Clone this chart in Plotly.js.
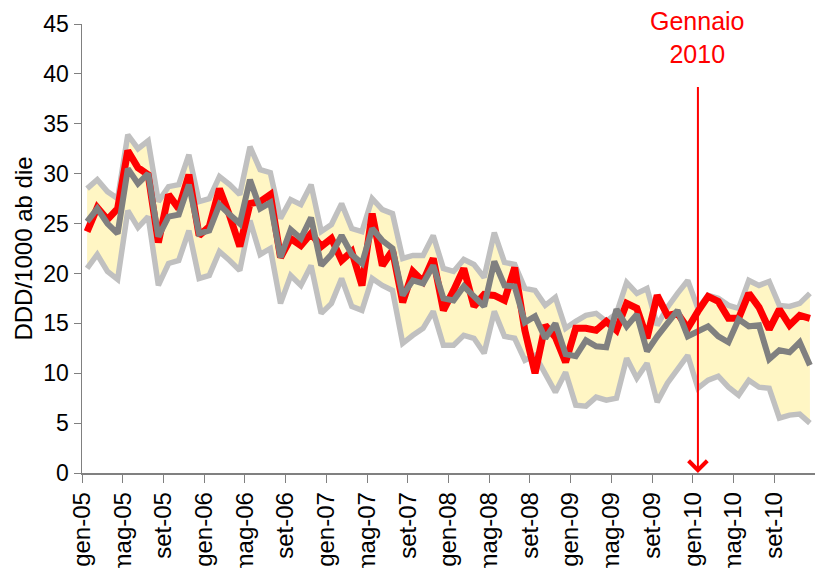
<!DOCTYPE html>
<html>
<head>
<meta charset="utf-8">
<script src="https://cdn.plot.ly/plotly-3.0.1.min.js"></script>
<style>
html, body { margin: 0; padding: 0; background: #fff; }
#chart { width: 815px; height: 568px; }
</style>
</head>
<body>
<div id="chart"></div>
<script>
// mesi gen-05 ... dic-10
var monthNames = ['gen', 'feb', 'mar', 'apr', 'mag', 'giu', 'lug', 'ago', 'set', 'ott', 'nov', 'dic'];
var years = ['05', '06', '07', '08', '09', '10'];
var months = [];
years.forEach(function (y) {
  monthNames.forEach(function (m) { months.push(m + '-' + y); });
});

// DDD/1000 ab die osservati (rosso)
var observed = [
  24.2, 26.6, 25.4, 26.5, 32.3, 30.6, 29.9, 23.1, 27.9, 26.5, 29.9, 23.8,
  24.7, 28.5, 25.8, 22.7, 27.0, 27.2, 27.9, 21.6, 23.5, 22.8, 24.0, 22.7,
  23.5, 21.3, 22.2, 18.8, 26.0, 20.8, 22.3, 17.1, 20.2, 19.2, 21.5, 16.3,
  18.3, 20.5, 16.7, 17.9, 17.8, 17.3, 20.6, 14.3, 10.0, 14.8, 13.6, 11.1,
  14.5, 14.5, 14.3, 15.2, 14.3, 17.0, 16.5, 13.5, 17.8, 15.8, 16.0, 14.5,
  16.2, 17.7, 17.2, 15.5, 15.5, 18.0, 16.6, 14.4, 16.4, 14.8, 15.8, 15.5
];

// valori attesi (grigio)
var predicted = [
  25.2, 26.5, 25.0, 24.0, 30.5, 29.0, 30.0, 23.7, 25.7, 25.9, 28.9, 24.0,
  24.3, 26.9, 25.9, 25.0, 29.4, 26.5, 27.1, 21.6, 24.4, 23.5, 25.6, 20.8,
  21.9, 23.8, 21.9, 21.0, 24.5, 23.3, 22.5, 17.8, 19.3, 19.0, 20.8, 17.5,
  17.3, 18.7, 17.7, 16.7, 21.2, 18.8, 18.7, 15.1, 15.7, 13.5, 15.0, 11.9,
  11.7, 13.3, 12.7, 12.6, 16.4, 14.7, 15.9, 12.2, 13.7, 15.0, 16.3, 13.7,
  14.2, 14.7, 13.7, 13.1, 15.4, 14.7, 14.8, 11.4, 12.3, 12.1, 13.1, 10.8
];

// limite superiore
var upper = [
  28.5, 29.4, 28.2, 27.5, 33.9, 32.5, 33.3, 27.2, 28.7, 28.9, 31.9, 27.2,
  27.5, 29.7, 28.9, 27.9, 32.7, 30.4, 30.1, 25.5, 27.4, 26.9, 28.9, 24.2,
  24.9, 27.0, 24.5, 24.2, 27.5, 26.4, 26.0, 21.5, 21.8, 21.8, 23.8, 20.5,
  20.2, 21.4, 20.9, 19.6, 24.1, 21.1, 20.9, 18.5, 18.3, 16.8, 17.6, 14.5,
  15.2, 15.8, 16.0, 15.2, 16.0, 19.1, 18.0, 18.5, 14.8, 16.6, 18.0, 19.3,
  16.5, 17.8, 17.5, 16.8, 16.5, 19.3, 18.8, 19.2, 16.8, 16.7, 17.0, 18.0
];

// limite inferiore
var lower = [
  20.5, 21.9, 20.2, 19.4, 26.3, 24.6, 25.7, 18.8, 21.0, 21.3, 24.3, 19.5,
  19.8, 22.2, 21.3, 20.3, 25.3, 21.9, 22.5, 17.0, 19.8, 18.8, 20.8, 16.0,
  17.0, 19.5, 16.7, 16.3, 19.5, 18.8, 18.3, 13.0, 13.8, 14.5, 16.2, 12.8,
  12.8, 13.8, 13.5, 12.0, 16.2, 13.7, 13.5, 11.3, 11.8, 10.0, 8.1, 10.1,
  6.8, 6.7, 7.6, 7.3, 7.5, 11.5, 9.5, 11.0, 7.1, 9.0, 10.3, 11.8,
  8.5, 9.3, 9.7, 8.6, 7.8, 9.3, 8.6, 8.5, 5.5, 5.8, 5.9, 5.0
];

var idx = months.map(function (m, i) { return i; });
var tickIdx = idx.filter(function (i) { return i % 4 === 0; });
var marker = months.indexOf('gen-10');

var data = [
  { x: idx, y: lower, mode: 'lines', line: { width: 0 }, hoverinfo: 'skip', showlegend: false },
  { x: idx, y: upper, mode: 'lines', line: { width: 0 }, fill: 'tonexty', fillcolor: '#fff6c4',
    hoverinfo: 'skip', showlegend: false },
  { x: idx, y: lower, mode: 'lines', line: { color: '#c0c0c0', width: 5.5 }, name: 'inf' },
  { x: idx, y: upper, mode: 'lines', line: { color: '#c0c0c0', width: 5.5 }, name: 'sup' },
  { x: idx, y: observed, mode: 'lines', line: { color: '#ff0000', width: 7 }, name: 'osservato' },
  { x: idx, y: predicted, mode: 'lines', line: { color: '#808080', width: 6 }, name: 'atteso' }
];

var layout = {
  width: 815,
  height: 568,
  margin: { l: 82, r: 0, t: 24, b: 95 },
  paper_bgcolor: '#ffffff',
  plot_bgcolor: '#ffffff',
  showlegend: false,
  font: { family: 'Liberation Sans, Arial, sans-serif', color: '#000000', size: 23 },
  xaxis: {
    range: [-0.5, idx.length - 0.5],
    tickmode: 'array',
    tickvals: tickIdx.map(function (i) { return i - 0.5; }),
    ticktext: tickIdx.map(function (i) { return months[i]; }),
    tickangle: -90,
    ticks: 'outside',
    ticklen: 8,
    tickcolor: '#808080',
    showline: true,
    linecolor: '#808080',
    linewidth: 1.5,
    showgrid: false,
    zeroline: false,
    tickfont: { size: 24 }
  },
  yaxis: {
    range: [0, 45],
    dtick: 5,
    ticks: 'outside',
    ticklen: 7,
    tickcolor: '#808080',
    showline: true,
    linecolor: '#808080',
    linewidth: 1.5,
    showgrid: false,
    zeroline: false,
    tickfont: { size: 23 },
    title: { text: 'DDD/1000 ab die', font: { size: 24 }, standoff: 4 }
  },
  annotations: [{
    x: marker,
    y: 0,
    xref: 'x',
    yref: 'y',
    text: 'Gennaio<br>2010',
    font: { color: '#ff0000', size: 25 },
    showarrow: true,
    ax: 0,
    ay: -436,
    arrowcolor: '#ff0000',
    arrowwidth: 2,
    arrowhead: 4,
    arrowsize: 1.8,
    startstandoff: 18
  }]
};

Plotly.newPlot('chart', data, layout, { displayModeBar: false, staticPlot: true });
</script>
</body>
</html>
